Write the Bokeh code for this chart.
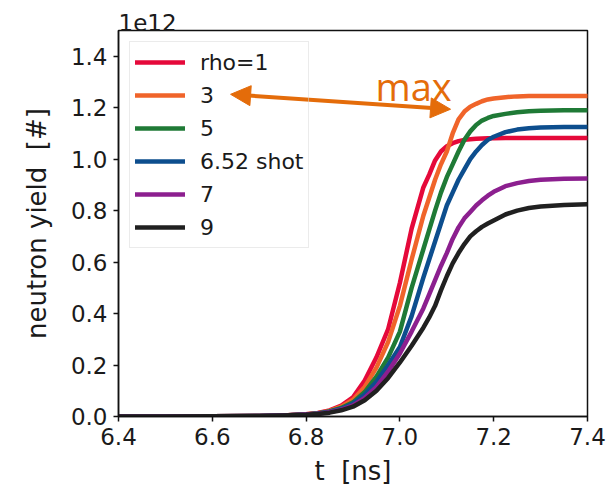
from bokeh.plotting import figure
from bokeh.models import Legend, LegendItem, Label, Arrow, NormalHead, FixedTicker
from bokeh.embed import file_html
from bokeh.resources import INLINE

# time [ns]
t_ns = [6.4, 6.5, 6.6, 6.7, 6.75, 6.8, 6.825, 6.85, 6.875, 6.9, 6.925, 6.95,
        6.975, 7.0, 7.025, 7.05, 7.0625, 7.075, 7.0875, 7.1, 7.1125, 7.125, 7.1375,
        7.15, 7.1625, 7.175, 7.1875, 7.2, 7.225, 7.25, 7.275, 7.3, 7.35, 7.4]

# neutron yield in units of 1e12
y_rho1 = [0, 0, 0.001, 0.002, 0.004, 0.009, 0.014, 0.024, 0.042, 0.075, 0.14, 0.23,
          0.34, 0.52, 0.73, 0.89, 0.94, 0.995, 1.03, 1.05, 1.062, 1.07, 1.075,
          1.077, 1.079, 1.08, 1.081, 1.081, 1.082, 1.082, 1.082, 1.082, 1.082, 1.082]
y_rho3 = [0, 0, 0.001, 0.002, 0.004, 0.009, 0.013, 0.022, 0.038, 0.065, 0.115, 0.19,
          0.29, 0.43, 0.61, 0.78, 0.85, 0.92, 0.98, 1.03, 1.10, 1.155, 1.185,
          1.204, 1.215, 1.225, 1.232, 1.236, 1.241, 1.244, 1.245, 1.245, 1.245, 1.245]
y_rho5 = [0, 0, 0.001, 0.002, 0.004, 0.008, 0.012, 0.02, 0.033, 0.055, 0.095, 0.155,
          0.23, 0.33, 0.50, 0.65, 0.725, 0.80, 0.87, 0.93, 0.98, 1.03, 1.075,
          1.108, 1.133, 1.15, 1.16, 1.168, 1.176, 1.182, 1.186, 1.188, 1.19, 1.19]
y_rho652 = [0, 0, 0.001, 0.002, 0.004, 0.008, 0.012, 0.019, 0.03, 0.05, 0.085, 0.135,
            0.20, 0.27, 0.39, 0.54, 0.61, 0.68, 0.75, 0.82, 0.87, 0.92, 0.96,
            1.00, 1.03, 1.055, 1.075, 1.087, 1.105, 1.115, 1.12, 1.123, 1.125, 1.125]
y_rho7 = [0, 0, 0.001, 0.002, 0.004, 0.008, 0.011, 0.017, 0.027, 0.043, 0.072, 0.115,
          0.175, 0.245, 0.33, 0.42, 0.475, 0.53, 0.585, 0.635, 0.69, 0.735, 0.77,
          0.795, 0.82, 0.84, 0.858, 0.873, 0.895, 0.907, 0.915, 0.92, 0.924, 0.925]
y_rho9 = [0, 0, 0.001, 0.002, 0.004, 0.007, 0.01, 0.015, 0.024, 0.038, 0.063, 0.10,
          0.15, 0.21, 0.275, 0.345, 0.385, 0.43, 0.49, 0.545, 0.595, 0.635, 0.67,
          0.70, 0.72, 0.737, 0.75, 0.762, 0.785, 0.80, 0.81, 0.816, 0.822, 0.825]

labels = ["rho=1", "3", "5", "6.52 shot", "7", "9"]
colors = ["#e5093a", "#f0642a", "#1f7a36", "#0d4e8e", "#8c1f8f", "#202020"]
series = [y_rho1, y_rho3, y_rho5, y_rho652, y_rho7, y_rho9]

x_ticks = [6.4, 6.6, 6.8, 7.0, 7.2, 7.4]
y_ticks = [0.0, 0.2, 0.4, 0.6, 0.8, 1.0, 1.2, 1.4]

# annotation: double-headed arrow and "max" text (data coords)
arrow_start = (6.639, 1.252)
arrow_end = (7.108, 1.194)
max_pos = (6.948, 1.283)

FONT = "DejaVu Sans"
NB = "\u00a0\u00a0"

p = figure(width=608, height=494, output_backend="svg", toolbar_location=None,
           x_range=(6.4, 7.4), y_range=(0.0, 1.5),
           min_border_left=118, min_border_right=21, min_border_top=30, min_border_bottom=78,
           title="1e12")
p.title.align = "left"
p.title.text_font = FONT
p.title.text_font_size = "23px"
p.title.text_font_style = "normal"
p.title.text_color = "#1a1a1a"
p.title.standoff = 0
p.title.offset = 0
p.grid.visible = False
p.outline_line_color = "#111111"
p.outline_line_width = 1.5
p.background_fill_color = "white"
p.border_fill_color = "white"

items = []
for lab, col, ys in zip(labels, colors, series):
    r = p.line(t_ns, ys, line_color=col, line_width=4.5, line_join="round", line_cap="round")
    items.append(LegendItem(label=lab, renderers=[r]))

for ax in (p.xaxis[0], p.yaxis[0]):
    ax.axis_line_color = "#111111"
    ax.axis_line_width = 1.5
    ax.major_tick_line_color = "#111111"
    ax.major_tick_line_width = 1.5
    ax.major_tick_out = 5
    ax.major_tick_in = 0
    ax.minor_tick_out = 0
    ax.minor_tick_in = 0
    ax.major_label_text_font = FONT
    ax.major_label_text_font_size = "23px"
    ax.major_label_text_color = "#1a1a1a"
    ax.axis_label_text_font = FONT
    ax.axis_label_text_font_size = "26px"
    ax.axis_label_text_font_style = "normal"
    ax.axis_label_text_color = "#1a1a1a"

p.xaxis.ticker = FixedTicker(ticks=x_ticks)
p.yaxis.ticker = FixedTicker(ticks=y_ticks)
p.xaxis.major_label_overrides = {v: f"{v:.1f}" for v in x_ticks}
p.yaxis.major_label_overrides = {v: f"{v:.1f}" for v in y_ticks}
p.xaxis.axis_label = "t" + NB + "[ns]"
p.yaxis.axis_label = "neutron yield" + NB + "[#]"
p.xaxis.major_label_standoff = 6
p.yaxis.major_label_standoff = 6
p.xaxis.axis_label_standoff = 8
p.yaxis.axis_label_standoff = 16

legend = Legend(items=items, location="top_left", margin=11,
                glyph_width=50, glyph_height=30, spacing=3, padding=5,
                label_standoff=15, label_text_font=FONT, label_text_font_size="22px",
                label_text_color="#1a1a1a",
                border_line_color="#d8d8d8", border_line_width=1,
                background_fill_alpha=0.0)
p.add_layout(legend)

orange = "#e46c0a"
arrow = Arrow(x_start=arrow_start[0], y_start=arrow_start[1],
              x_end=arrow_end[0], y_end=arrow_end[1],
              line_color=orange, line_width=4,
              start=NormalHead(size=20, fill_color=orange, line_color=orange),
              end=NormalHead(size=20, fill_color=orange, line_color=orange),
              level="overlay")
p.add_layout(arrow)
p.add_layout(Label(x=max_pos[0], y=max_pos[1], text="max", text_font="Open Sans",
                   text_font_size="38px", text_color=orange,
                   text_baseline="alphabetic", text_align="left", level="overlay"))

open("out.html", "w").write(file_html(p, INLINE))
